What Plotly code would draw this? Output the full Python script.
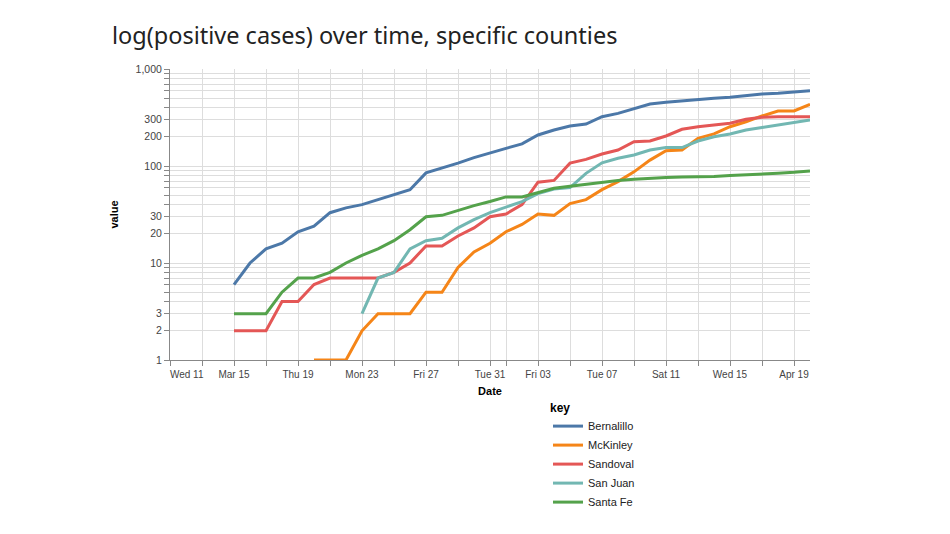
import pandas as pd
import plotly.graph_objects as go

# ---- data ----
counties = ["Bernalillo", "McKinley", "Sandoval", "San Juan", "Santa Fe"]
colors = ["#4c78a8", "#f58518", "#e45756", "#72b7b2", "#54a24b"]

bernalillo_start = "2020-03-15"
bernalillo = [6, 10, 14, 16, 21, 24, 33, 37, 40, 45, 50, 57, 85, 95, 107, 122, 135,
              152, 169, 209, 235, 258, 271, 322, 349, 393, 436, 454, 471, 487, 499,
              511, 531, 553, 561, 575, 597]

mckinley_start = "2020-03-20"
mckinley = [1, 1, 1, 2, 3, 3, 3, 5, 5, 9, 13, 16,
            21, 25, 32, 31, 41, 45, 57, 69, 87, 115, 144, 146, 193, 214, 254, 286,
            328, 369, 369, 433]

sandoval_start = "2020-03-15"
sandoval = [2, 2, 2, 4, 4, 6, 7, 7, 7, 7, 8, 10, 15, 15, 19, 23, 30,
            32, 40, 68, 71, 107, 117, 133, 146, 178, 181, 204, 239, 254, 265, 276,
            303, 318, 322, 322, 322]

san_juan_start = "2020-03-23"
san_juan = [3, 7, 8, 14, 17, 18, 23, 28, 33,
            38, 43, 52, 58, 60, 84, 108, 120, 130, 146, 155, 155, 181, 200, 214,
            235, 250, 265, 279, 298]

santa_fe_start = "2020-03-15"
santa_fe = [3, 3, 3, 5, 7, 7, 8, 10, 12, 14, 17, 22, 30, 31, 35, 39, 43,
            48, 48, 53, 59, 62, 65, 68, 71, 73, 75, 76, 77, 77, 78, 80, 81, 83, 84,
            86, 89]

series = [
    (bernalillo_start, bernalillo),
    (mckinley_start, mckinley),
    (sandoval_start, sandoval),
    (san_juan_start, san_juan),
    (santa_fe_start, santa_fe),
]

x_domain = ["2020-03-11", "2020-04-20"]
x_tick_dates = ["2020-03-11", "2020-03-13", "2020-03-15", "2020-03-17", "2020-03-19",
                "2020-03-21", "2020-03-23", "2020-03-25", "2020-03-27", "2020-03-29",
                "2020-03-31", "2020-04-01", "2020-04-03", "2020-04-05", "2020-04-07",
                "2020-04-09", "2020-04-11", "2020-04-13", "2020-04-15", "2020-04-17",
                "2020-04-19"]
x_tick_labels = ["Wed 11", "", "Mar 15", "", "Thu 19", "", "Mon 23", "", "Fri 27", "",
                 "Tue 31", "", "Fri 03", "", "Tue 07", "", "Sat 11", "", "Wed 15", "",
                 "Apr 19"]

y_tick_values = [1, 2, 3, 4, 5, 6, 7, 8, 9,
                 10, 20, 30, 40, 50, 60, 70, 80, 90,
                 100, 200, 300, 400, 500, 600, 700, 800, 900, 1000]
y_labelled = {1: "1", 2: "2", 3: "3", 10: "10", 20: "20", 30: "30",
              100: "100", 200: "200", 300: "300", 1000: "1,000"}

# first label is flush-left against the axis start (as in the original)
tick_text = list(x_tick_labels)
tick_text[0] = "\u2007" * 6 + tick_text[0]

# ---- figure ----
fig = go.Figure()
for name, color, (start, vals) in zip(counties, colors, series):
    dates = pd.date_range(start, periods=len(vals), freq="D")
    fig.add_trace(go.Scatter(
        x=dates, y=vals, mode="lines", name=name,
        line=dict(color=color, width=3),
    ))

FONT = "Liberation Sans, Arial, sans-serif"

fig.update_layout(
    width=950, height=534,
    paper_bgcolor="white", plot_bgcolor="white",
    margin=dict(l=170, r=140, t=69, b=174),
    title=dict(
        text="log(positive cases) over time, specific counties",
        x=112 / 950, xanchor="left", y=1 - 36 / 534, yanchor="middle",
        font=dict(family="Noto Sans, sans-serif", size=23.5, color="#222"),
    ),
    xaxis=dict(
        type="date", range=x_domain,
        tickmode="array", tickvals=x_tick_dates, ticktext=tick_text,
        tickangle=0,
        showgrid=True, gridcolor="#dddddd", gridwidth=1,
        showline=True, linecolor="#888", linewidth=1,
        ticks="outside", ticklen=5, tickcolor="#888",
        tickfont=dict(family=FONT, size=10, color="#444"),
        zeroline=False,
        title=dict(text="<b>Date</b>", standoff=8,
                   font=dict(family=FONT, size=11, color="#000")),
    ),
    yaxis=dict(
        type="log", range=[0, 3],
        tickmode="array", tickvals=y_tick_values,
        ticktext=[y_labelled.get(v, "") for v in y_tick_values],
        showgrid=True, gridcolor="#dddddd", gridwidth=1,
        showline=True, linecolor="#888", linewidth=1,
        ticks="outside", ticklen=5, tickcolor="#888",
        tickfont=dict(family=FONT, size=10.5, color="#444"),
        zeroline=False,
        title=dict(text="<b>value</b>", standoff=14,
                   font=dict(family=FONT, size=11, color="#000")),
    ),
    legend=dict(
        x=(548 - 170) / 640, xanchor="left",
        y=(360 - 396) / 291, yanchor="top",
        title=dict(text="<b>key</b>", font=dict(family=FONT, size=12, color="#000")),
        font=dict(family=FONT, size=11, color="#222"),
        bgcolor="rgba(0,0,0,0)",
        itemwidth=30,
    ),
    showlegend=True,
)

fig.write_html("out.html", config={"displayModeBar": False},
               post_script="document.body.style.margin='0px';")
